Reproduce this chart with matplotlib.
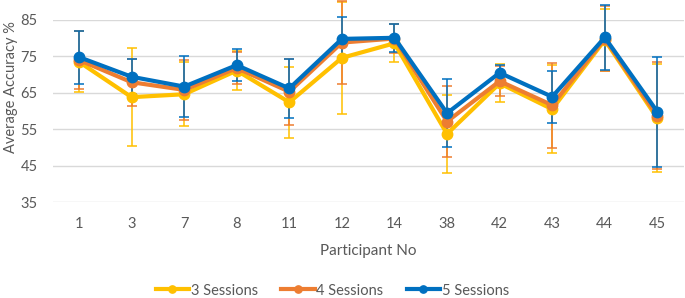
import numpy as np
import matplotlib
matplotlib.use("Agg")
import matplotlib.pyplot as plt

plt.rcParams["font.family"] = ["Lato", "DejaVu Sans"]

participants = ["1", "3", "7", "8", "11", "12", "14", "38", "42", "43", "44", "45"]

acc_3 = [73.5, 63.8, 64.6, 71.1, 62.4, 74.6, 78.6, 53.7, 67.6, 60.5, 79.5, 58.0]
err_3 = [8.4, 13.4, 8.8, 5.4, 9.7, 15.4, 5.2, 10.7, 5.2, 12.1, 8.6, 14.8]

acc_4 = [74.0, 67.9, 65.8, 71.8, 65.3, 78.8, 79.9, 57.1, 68.2, 61.6, 79.9, 58.7]
err_4 = [7.9, 6.5, 8.2, 4.5, 9.1, 11.5, 4.1, 9.7, 4.1, 11.7, 9.0, 14.7]

acc_5 = [74.8, 69.4, 66.7, 72.6, 66.2, 79.8, 80.1, 59.4, 70.5, 63.9, 80.2, 59.8]
err_5 = [7.3, 4.8, 8.4, 4.3, 8.2, 6.0, 3.9, 9.3, 2.1, 7.1, 9.0, 15.1]

series = [("3 Sessions", acc_3, err_3, "#FFC000"),
          ("4 Sessions", acc_4, err_4, "#ED7D31"),
          ("5 Sessions", acc_5, err_5, "#0070C0")]

fig = plt.figure(figsize=(6.85, 2.98), dpi=100)
ax = fig.add_axes([0.077, 0.322, 0.921, 0.611])

x = np.arange(len(participants))
for i, (name, vals, errs, col) in enumerate(series):
    ax.errorbar(x, vals, yerr=errs, fmt="none", ecolor=col, elinewidth=1.1,
                capsize=3.6, capthick=1.1, clip_on=False, zorder=2 + i)
    ax.plot(x, vals, color=col, lw=3, marker="o", ms=7.5, label=name,
            clip_on=False, zorder=5 + i)

ax.set_xlim(-0.5, len(participants) - 0.5)
ax.set_ylim(35, 85)
ax.set_yticks(np.arange(35, 86, 10))
ax.set_xticks(x)
ax.set_xticklabels(participants)
ax.grid(axis="y", color="#D9D9D9", lw=1)
ax.set_axisbelow(True)
for s in ax.spines.values():
    s.set_visible(False)
ax.tick_params(length=0, labelsize=10.5, colors="#595959")
ax.tick_params(axis="x", pad=11)
ax.tick_params(axis="y", pad=11)
ax.set_ylabel("Average Accuracy %", fontsize=10.5, color="#595959", va="center")
ax.yaxis.set_label_coords(-0.066, 0.63)
ax.set_xlabel("Participant No", fontsize=11, color="#595959", labelpad=9)

fig.legend(loc="center", bbox_to_anchor=(0.485, 0.025), ncol=3, frameon=False,
           fontsize=10.5, handlelength=2.3, columnspacing=1.6, handletextpad=0.1,
           markerscale=0.7, labelcolor="#595959", borderpad=0)

fig.savefig("out.png", dpi=100)
